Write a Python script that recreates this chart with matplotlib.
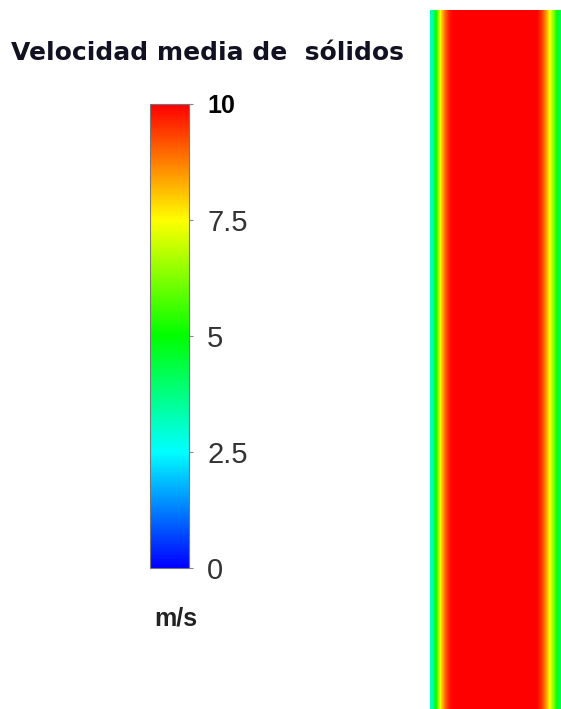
import numpy as np
import matplotlib
matplotlib.use('Agg')
import matplotlib.pyplot as plt
from matplotlib.colors import LinearSegmentedColormap, Normalize
from matplotlib.colorbar import ColorbarBase

# colour scale of the solids velocity (m/s)
scale_nodes = [0.0, 2.5, 5.0, 7.5, 10.0]
scale_colors = ['#0000ff', '#00ffff', '#00ff00', '#ffff00', '#ff0000']
tick_values = [0, 2.5, 5, 7.5, 10]
tick_labels = ['0', '2.5', '5', '7.5', '10']

# velocity read across the width of the pipe, wall to wall (evenly spaced)
profile = [3.2, 5.3, 7.8, 9.0, 9.8,
           10, 10, 10, 10, 10, 10, 10, 10, 10, 10,
           10, 10, 10, 10, 10, 10, 10, 10, 10, 10,
           9.5, 8.6, 7.4, 6.0, 4.3]

W, H = 561, 709
fig = plt.figure(figsize=(W / 100, H / 100), dpi=100)
fig.patch.set_facecolor('white')

cmap = LinearSegmentedColormap.from_list(
    'vel', list(zip(np.array(scale_nodes) / 10.0, scale_colors)))
norm = Normalize(vmin=0, vmax=10)

# pipe section
ax = fig.add_axes([430 / W, 0, 131 / W, 1 - 10 / H])
field = np.array([profile, profile])
ax.imshow(field, cmap=cmap, norm=norm, aspect='auto',
          interpolation='bilinear', interpolation_stage='data',
          extent=[0, 1, 0, 1])
ax.set_axis_off()

# colour bar
cax = fig.add_axes([150 / W, 1 - 568 / H, 39 / W, 464 / H])
cb = ColorbarBase(cax, cmap=cmap, norm=norm, orientation='vertical')
cb.outline.set_edgecolor('#777777')
cb.outline.set_linewidth(0.8)
cb.set_ticks(tick_values)
cb.set_ticklabels(tick_labels)
cax.tick_params(axis='y', length=3, width=0.8, color='#888888', pad=10,
                labelsize=21, labelcolor='#333333')
for t in cax.get_yticklabels():
    t.set_fontfamily('Liberation Sans')
    if t.get_text() == '10':
        t.set_fontweight('bold')
        t.set_color('black')
        t.set_fontsize(18)

fig.text(11 / W, 1 - 60 / H, 'Velocidad media de  sólidos',
         fontsize=18, fontweight='bold', color='#111122',
         family='DejaVu Sans', ha='left', va='baseline')
fig.text(176 / W, 1 - 626 / H, 'm/s', fontsize=18, fontweight='bold',
         color='#222222', family='Liberation Sans', ha='center', va='baseline')

fig.savefig('out.png', dpi=100, facecolor='white')
